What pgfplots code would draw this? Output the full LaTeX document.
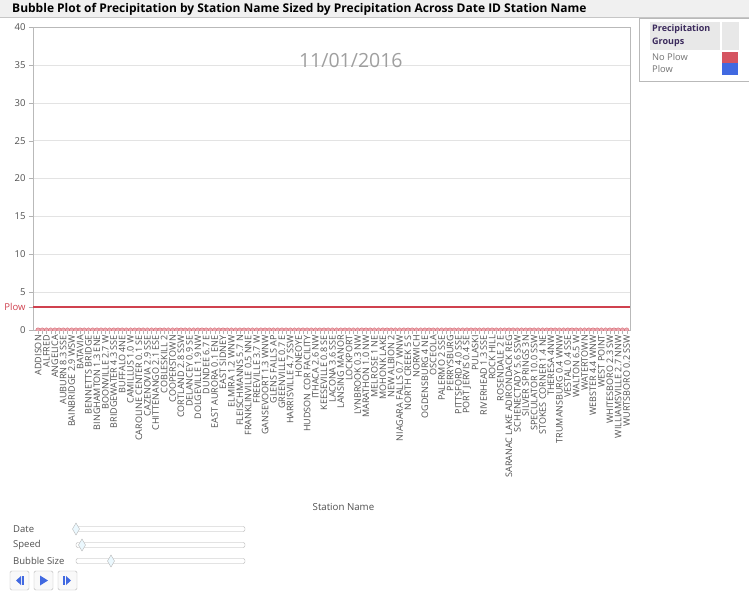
\documentclass[border=0pt]{standalone}
\usepackage{fontspec}
\setmainfont{Open Sans}
\usepackage{pgfplots}
\pgfplotsset{compat=1.18}

\definecolor{plowred}{HTML}{D0414F}
\definecolor{plowblue}{HTML}{4169E1}
\definecolor{hdrtext}{HTML}{3B2A5C}
\definecolor{txtgray}{HTML}{505050}

\begin{document}
\begin{tikzpicture}[x=1pt,y=-1pt]
\path[use as bounding box, fill=white] (0,0) rectangle (749,595);

% title bar
\fill[gray!12] (0,0) rectangle (749,17);
\draw[gray!45] (0,17) -- (749,17);
\node[anchor=west, font=\bfseries\fontsize{12}{13}\selectfont, inner sep=0pt] at (12,9) {Bubble Plot of Precipitation by Station Name Sized by Precipitation Across Date ID Station Name};

\begin{axis}[
  at={(33pt,-330pt)}, anchor=south west,
  scale only axis, width=597pt, height=303pt,
  xmin=-0.6, xmax=70.4, ymin=0, ymax=40,
  ytick={0,5,...,40},
  ymajorgrids, grid style={gray!22},
  xtick={0,...,70},
  minor xtick={0.5,1.5,...,69.5},
  xtick pos=bottom, ytick pos=left,
  tick align=outside,
  major tick length=4pt, minor tick length=4pt,
  tick style={gray!60},
  axis line style={gray!55},
  /pgf/number format/assume math mode=true,
  yticklabel style={font=\fontsize{9.5}{10}\selectfont, text=txtgray},
  xticklabel style={rotate=90, anchor=east, font=\fontsize{9}{9}\selectfont, text=txtgray, inner sep=1pt},
  xticklabels={ADDISON, ALFRED, ANGELICA, AUBURN 8.3 SSE, BAINBRIDGE 2.9 WSW, BATAVIA, BENNETTS BRIDGE, BINGHAMTON 1.3 ENE, BOONVILLE 2.7 W, BRIDGEWATER 4.3 SSE, BUFFALO 4NE, CAMILLUS 1.0 W, CAROLINE CENTER 0.1 SE, CAZENOVIA 2.9 SSE, CHITTENANGO 2.1 ESE, COBLESKILL 2, COOPERSTOWN, CORTLAND 2.8 SSW, DELANCEY 0.9 SE, DOLGEVILLE 1.9 NW, DUNDEE 6.7 E, EAST AURORA 0.1 ENE, EAST SIDNEY, ELMIRA 1.2 WNW, FLEISCHMANNS 5.7 N, FRANKLINVILLE 0.5 NNE, FREEVILLE 3.7 W, GANSEVOORT 1.3 WNW, GLENS FALLS AP, GREENVILLE 0.7 E, HARRISVILLE 4.7 SSW, HONEOYE, HUDSON COR FACILITY, ITHACA 2.6 NW, KEESEVILLE 0.8 SE, LACONA 3.6 SSE, LANSING MANOR, LOCKPORT, LYNBROOK 0.3 NW, MARATHON 1.0 NW, MELROSE 1 NE, MOHONK LAKE, NEW ALBION 2, NIAGARA FALLS 0.7 WNW, NORTH CREEK 5 S, NORWICH, OGDENSBURG 4 NE, OSCEOLA, PALERMO 2 SSE, PERRYSBURG, PITTSFORD 4.0 SSE, PORT JERVIS 0.4 SE, PULASKI, RIVERHEAD 1.3 SSE, ROCK HILL, ROSENDALE 2 E, SARANAC LAKE ADIRONDACK REG, SCHENECTADY 5.6 SSW, SILVER SPRINGS 3N, SPECULATOR 10.0 SSW, STOKES CORNER 1.4 NE, THERESA 4NW, TRUMANSBURG 0.4 WNW, VESTAL 0.4 SSE, WALTON 6.5 W, WATERTOWN, WEBSTER 4.4 WNW, WEST POINT, WHITESBORO 2.3 SW, WILLIAMSVILLE 2.7 NNW, WURTSBORO 0.2 SSW},
  extra y ticks={3},
  extra y tick labels={Plow},
  extra y tick style={grid=none, yticklabel style={text=plowred}},
  ylabel={Precipitation},
  ylabel style={font=\fontsize{9.5}{10}\selectfont, text=txtgray},
  xlabel={Station Name},
  xlabel style={font=\fontsize{9.7}{10}\selectfont, text=txtgray, at={(axis description cs:0.52,-0.585)}, anchor=center},
  clip marker paths=true,
]
% plow threshold
\addplot[plowred, line width=1.6pt] coordinates {(-0.6,3) (70.4,3)};
% bubbles (No Plow, all zero precipitation on this date)
\addplot[only marks, mark=*, mark size=2.2pt, mark options={draw=plowred!80, fill=plowred!45}] coordinates {
(0,0) (0.5,0) (1,0) (1.5,0) (2,0) (2.5,0) (3,0) (3.5,0) (4,0) (4.5,0)
(5,0) (5.5,0) (6,0) (6.5,0) (7,0) (7.5,0) (8,0) (8.5,0) (9,0) (9.5,0)
(10,0) (10.5,0) (11,0) (11.5,0) (12,0) (12.5,0) (13,0) (13.5,0) (14,0) (14.5,0)
(15,0) (15.5,0) (16,0) (16.5,0) (17,0) (17.5,0) (18,0) (18.5,0) (19,0) (19.5,0)
(20,0) (20.5,0) (21,0) (21.5,0) (22,0) (22.5,0) (23,0) (23.5,0) (24,0) (24.5,0)
(25,0) (25.5,0) (26,0) (26.5,0) (27,0) (27.5,0) (28,0) (28.5,0) (29,0) (29.5,0)
(30,0) (30.5,0) (31,0) (31.5,0) (32,0) (32.5,0) (33,0) (33.5,0) (34,0) (34.5,0)
(35,0) (35.5,0) (36,0) (36.5,0) (37,0) (37.5,0) (38,0) (38.5,0) (39,0) (39.5,0)
(40,0) (40.5,0) (41,0) (41.5,0) (42,0) (42.5,0) (43,0) (43.5,0) (44,0) (44.5,0)
(45,0) (45.5,0) (46,0) (46.5,0) (47,0) (47.5,0) (48,0) (48.5,0) (49,0) (49.5,0)
(50,0) (50.5,0) (51,0) (51.5,0) (52,0) (52.5,0) (53,0) (53.5,0) (54,0) (54.5,0)
(55,0) (55.5,0) (56,0) (56.5,0) (57,0) (57.5,0) (58,0) (58.5,0) (59,0) (59.5,0)
(60,0) (60.5,0) (61,0) (61.5,0) (62,0) (62.5,0) (63,0) (63.5,0) (64,0) (64.5,0)
(65,0) (65.5,0) (66,0) (66.5,0) (67,0) (67.5,0) (68,0) (68.5,0) (69,0) (69.5,0)
(70,0)};
\node[font=\fontsize{19.5}{21}\selectfont, text=gray!75] at (axis cs:37.2,35.6) {11/01/2016};
\end{axis}

% legend
\draw[gray!55] (639,18.5) -- (749,18.5);
\draw[gray!55] (639,18.5) -- (639,81);
\draw[gray!55] (639,81) -- (749,81);
\fill[gray!18] (650,22) rectangle (720,50);
\fill[gray!18] (722,22) rectangle (739,50);
\node[anchor=north west, align=left, font=\bfseries\fontsize{9}{13}\selectfont, text=hdrtext, inner sep=0pt] at (652,24.5) {Precipitation\\Groups};
\node[anchor=west, font=\fontsize{9.3}{10}\selectfont, text=gray!90!black, inner sep=0pt] at (652,57) {No Plow};
\node[anchor=west, font=\fontsize{9.3}{10}\selectfont, text=gray!90!black, inner sep=0pt] at (652,69.5) {Plow};
\fill[plowred!90] (722,51.5) rectangle (738,63);
\fill[plowblue] (722,63) rectangle (738,75);

% sliders
\node[anchor=west, font=\fontsize{9.5}{10}\selectfont, text=txtgray, inner sep=0pt] at (13,529) {Date};
\node[anchor=west, font=\fontsize{9.5}{10}\selectfont, text=txtgray, inner sep=0pt] at (13,545) {Speed};
\node[anchor=west, font=\fontsize{9.5}{10}\selectfont, text=txtgray, inner sep=0pt] at (13,561) {Bubble Size};
\foreach \yy/\xx/\xs in {529/76/75, 545/82/76, 561/111/76}{
  \draw[gray!60, fill=white, rounded corners=2pt] (\xs,\yy-2.5) rectangle (245,\yy+2.5);
  \draw[gray!55, fill=cyan!8] (\xx,\yy-6) -- (\xx+3.5,\yy) -- (\xx,\yy+6) -- (\xx-3.5,\yy) -- cycle;
}
% play buttons
\foreach \bx in {10,34,58}{
  \draw[gray!55, fill=gray!5, rounded corners=1.5pt] (\bx,571) rectangle (\bx+19,590);
}
\fill[plowblue] (16,580.5) -- (21,576) -- (21,585) -- cycle;
\fill[plowblue] (22,576) rectangle (24,585);
\fill[plowblue] (40,575.5) -- (48,580.5) -- (40,585.5) -- cycle;
\fill[plowblue] (63,576) rectangle (65,585);
\fill[plowblue] (66,576) -- (71,580.5) -- (66,585) -- cycle;
\end{tikzpicture}
\end{document}
